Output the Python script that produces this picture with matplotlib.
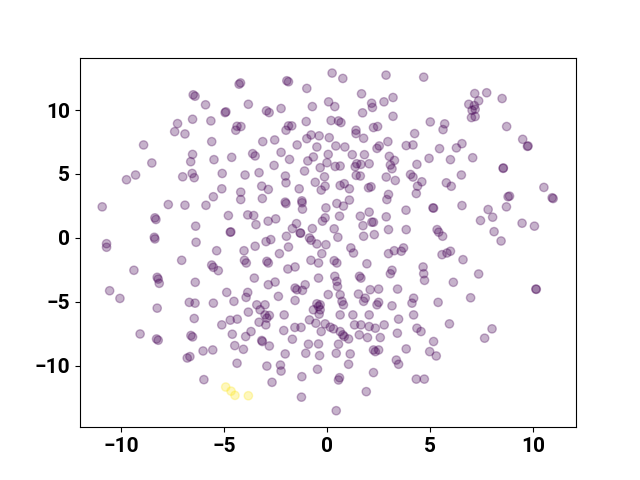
import numpy as np
import matplotlib
matplotlib.use('Agg')
import matplotlib.pyplot as plt

# 2-D embedding coordinates (class 0 = purple, class 1 = yellow)
x0 = [-6.50, -6.41, -5.90, -6.53, -7.26, -7.40, -6.90, -8.91, -6.53, -6.62,
      -8.51, -6.55, -6.45, -7.01, -9.30, -9.74, -4.27, -4.20, -1.95, -1.87,
      -0.98, 0.25, -3.82, -4.95, -4.91, -2.94, -2.81, -2.23, -0.71, 0.08,
      0.38, -5.64, -4.37, -4.18, -4.43, -1.87, -1.71, -1.99, -1.01, -5.60,
      -3.12, -2.54, -1.45, -0.98, -0.77, -0.38, -0.49, 0.11, -5.49, -4.63,
      -3.61, -3.49, -2.23, -1.82, -0.93, -0.66, 0.06, -2.57, -0.33, 0.00,
      -5.09, -3.98, -3.30, -2.02, -1.09, -0.12, -0.57, -1.99, 0.77, 2.87,
      4.70, 1.68, 2.17, 2.21, 2.77, 3.21, 1.73, 3.21, 0.20, 0.56,
      0.68, 1.41, 1.41, 1.78, 2.26, 2.46, 5.02, 5.72, 5.64, 4.26,
      2.96, 2.54, 2.43, 3.85, 4.18, 0.43, 0.87, 5.47, 6.29, 6.56,
      1.23, 1.82, 3.03, 3.28, 4.96, 6.00, 0.40, 0.64, 1.37, 1.45,
      1.65, 2.05, 3.08, 3.16, 4.37, 1.42, 1.62, 2.88, 3.32, 4.06,
      4.18, 4.61, 5.80, 6.04, 0.84, 7.18, 7.76, 6.89, 7.37, 7.16,
      7.05, 7.20, 7.02, 7.20, 8.51, 8.73, 9.51, 9.74, 9.77, 7.08,
      8.56, 8.57, 6.53, -10.92, -7.71, -6.90, -5.88, -8.36, -8.31, -6.38,
      -8.39, -8.36, -10.71, -10.71, -6.36, -7.06, -9.38, -8.25, -8.20, -8.15,
      -6.40, -10.56, -10.06, -8.25, -6.69, -6.41, -5.11, -3.17, -2.85, -1.35,
      -5.52, -4.19, -4.19, -3.14, -2.03, -1.99, -1.22, -1.21, -1.19, -0.28,
      -0.09, -0.05, -4.79, -3.85, -3.56, -3.45, -2.86, -2.49, -4.70, -4.67,
      -1.97, -1.68, -1.48, -1.30, -1.28, -0.71, -0.85, -0.77, -0.49, -0.22,
      -0.09, -0.05, -2.96, -2.73, -3.49, -1.87, -5.36, -4.03, -2.31, -0.25,
      -4.01, -3.92, -2.92, -2.85, -0.78, -0.41, -5.60, -5.52, -5.28, -1.90,
      -1.55, -0.41, -3.53, -2.85, -2.52, -1.55, -1.46, -1.19, -1.06, -4.87,
      -3.85, -3.93, -2.36, -1.55, -5.52, -4.52, -3.41, -3.01, -0.49, -0.33,
      -0.41, 0.06, 0.64, 1.09, 2.02, 2.14, 4.40, 0.48, 0.80, 1.09,
      2.99, 2.91, 4.34, 5.15, 5.18, 3.84, 0.61, 1.62, 2.05, 2.88,
      2.18, 2.26, 1.75, 0.35, 0.53, 1.78, 2.30, 2.99, 3.85, 5.35,
      5.43, 5.62, 1.16, 1.29, 2.99, 3.27, 3.61, 3.72, 5.59, 5.83,
      6.00, 0.35, 0.48, 1.94, 4.67, 4.70, 4.74, 3.16, 3.08, 1.58,
      1.65, 0.38, 0.48, 0.51, 6.14, 2.51, 2.10, 3.43, 1.53, 0.64,
      0.73, 0.80, 1.86, 1.78, 2.51, 2.43, 4.21, 4.13, 5.40, 3.16,
      6.56, 7.83, 8.05, 7.46, 8.12, 8.46, 8.72, 8.80, 8.87, 9.48,
      10.08, 10.54, 10.94, 10.99, 6.61, 7.37, 10.15, 10.17, 6.98, -6.45,
      -9.08, -8.28, -8.20, -6.61, -6.53, -6.02, -6.79, -6.66, -5.98, -3.82,
      -3.25, -3.01, -2.92, -2.80, -2.08, -5.11, -4.70, -4.36, -3.30, -2.97,
      -1.56, -1.26, -0.85, -0.66, -0.38, -0.33, -0.54, -0.09, -0.28, -2.10,
      -4.60, -3.95, -3.69, -3.17, -3.14, -4.48, -4.06, -2.80, -1.68, -0.90,
      -0.41, -5.55, -2.03, -1.03, -0.36, -4.37, -2.92, -2.26, -2.23, -2.67,
      -0.46, -1.22, -1.24, 0.64, 1.26, 2.05, 4.21, 3.48, 0.16, 0.32,
      0.64, 0.77, 0.84, 1.05, 1.34, 1.65, 2.05, 2.35, 2.78, 1.57,
      1.97, 2.59, 3.42, 4.37, 4.57, 5.95, 0.56, 0.45, 1.13, 2.26,
      2.35, 2.51, 3.85, 5.18, 4.99, 5.31, 3.37, 3.48, 1.05, 2.26,
      0.61, 0.56, 4.34, 4.73, 1.91, 0.45, 8.02, 7.66]

y0 = [11.19, 11.08, 10.41, 9.28, 8.94, 8.31, 8.13, 7.27, 6.53, 5.96,
      5.86, 5.04, 4.71, 4.78, 4.92, 4.55, 12.02, 12.12, 12.29, 12.21,
      11.69, 12.89, 10.45, 9.80, 9.86, 9.94, 9.80, 10.12, 10.27, 10.64,
      10.27, 9.15, 8.73, 8.71, 8.42, 8.76, 8.76, 8.42, 9.10, 7.53,
      7.53, 7.66, 7.27, 7.76, 8.05, 7.98, 7.11, 7.84, 6.12, 6.30,
      6.59, 6.41, 6.69, 6.14, 6.02, 6.33, 6.53, 5.67, 5.49, 5.88,
      5.04, 4.92, 5.10, 4.84, 5.23, 4.78, 4.35, 4.31, 12.47, 12.73,
      12.57, 11.27, 10.53, 10.20, 10.64, 10.98, 9.78, 9.51, 9.18, 9.15,
      9.02, 8.42, 8.16, 7.79, 8.63, 8.71, 9.07, 8.92, 8.47, 8.16,
      7.53, 7.19, 7.00, 7.22, 7.27, 7.19, 7.11, 6.98, 7.04, 7.37,
      6.51, 6.51, 6.38, 6.06, 6.22, 6.12, 5.59, 5.62, 5.57, 5.80,
      5.75, 5.80, 5.70, 5.41, 5.75, 4.89, 4.84, 4.76, 4.49, 4.96,
      4.76, 4.39, 4.31, 4.04, 4.24, 11.29, 11.35, 10.45, 10.72, 10.35,
      9.98, 10.06, 9.41, 9.49, 10.90, 8.71, 7.71, 7.16, 7.19, 6.27,
      5.44, 5.47, 4.92, 2.43, 2.61, 2.56, 2.55, 1.57, 1.44, 0.92,
      0.05, -0.08, -0.45, -0.73, -0.34, -1.75, -2.53, -3.08, -3.22, -3.55,
      -3.47, -4.13, -4.73, -5.49, -5.04, -5.10, 3.84, 4.05, 3.79, 3.84,
      3.22, 3.58, 3.00, 3.08, 2.80, 2.69, 2.90, 2.75, 2.25, 3.74,
      4.05, 2.35, 1.75, 1.80, 1.75, 1.04, 1.31, 1.49, 0.45, 0.47,
      0.13, 0.73, 1.12, 0.39, 0.37, 0.73, 0.00, -0.18, -0.47, 1.31,
      1.57, -0.53, -0.29, -0.13, -0.65, -0.71, -1.00, -1.00, -1.23, -1.23,
      -1.75, -1.96, -1.83, -1.96, -1.75, -1.96, -2.12, -2.30, -2.56, -2.43,
      -2.27, -3.14, -3.14, -3.66, -3.45, -3.92, -4.05, -4.10, -3.66, -4.26,
      -4.26, -4.65, -4.57, -4.89, -5.10, -4.96, -5.23, -5.23, -5.15, -5.23,
      -5.36, -4.43, 4.10, 3.84, 3.92, 4.00, 4.05, 2.69, 2.49, 2.96,
      3.40, 3.00, 3.47, 2.35, 2.33, 2.17, 1.70, 1.70, 2.02, 1.65,
      1.23, 1.23, 0.96, 0.71, 0.05, 0.13, 0.26, 0.65, 0.65, 0.65,
      0.45, 0.13, -0.78, -1.18, -1.23, -1.00, -1.04, -0.78, -1.31, -1.18,
      -1.04, -1.78, -1.96, -2.02, -2.27, -2.80, -3.32, -2.53, -2.80, -3.00,
      -3.14, -3.00, -3.40, -3.79, -3.47, -4.00, -4.05, -4.00, -4.39, -4.45,
      -4.96, -5.23, -4.71, -4.96, -5.04, -5.23, -4.71, -5.10, -5.04, -5.31,
      2.53, 2.22, 1.62, 1.36, 0.49, -0.24, 2.43, 3.22, 3.27, 1.15,
      0.92, 3.95, 3.14, 3.08, -1.70, -2.82, -4.00, -4.02, -4.68, -6.30,
      -7.51, -7.90, -8.00, -7.63, -7.74, -8.84, -9.39, -9.28, -11.08, -5.80,
      -5.62, -6.02, -6.27, -6.06, -6.02, -6.80, -6.43, -6.35, -6.59, -6.80,
      -7.00, -7.00, -6.41, -5.62, -5.96, -5.62, -6.67, -6.72, -7.32, -7.24,
      -7.53, -7.71, -7.32, -8.02, -8.10, -8.42, -8.71, -8.45, -7.92, -8.31,
      -8.29, -8.76, -9.07, -9.02, -9.20, -9.80, -10.02, -9.94, -10.41, -11.29,
      -10.27, -10.85, -12.45, -6.02, -6.02, -6.02, -6.02, -6.35, -6.98, -7.11,
      -7.32, -7.58, -7.71, -7.90, -6.80, -6.80, -6.93, -7.06, -6.80, -7.58,
      -7.79, -7.79, -7.45, -7.06, -7.32, -6.72, -8.31, -9.02, -9.07, -8.76,
      -8.89, -8.76, -8.68, -8.10, -8.89, -9.23, -9.55, -9.88, -9.88, -10.53,
      -10.93, -11.11, -11.04, -11.04, -12.02, -13.51, -7.11, -7.84]

x1 = [-4.92, -4.66, -4.47, -3.82]
y1 = [-11.66, -11.98, -12.31, -12.34]

X = np.array(x0 + x1)
Y = np.array(y0 + y1)
labels = np.array([0] * len(x0) + [1] * len(x1))

plt.rcParams['font.family'] = ['Roboto', 'DejaVu Sans']

plt.figure(figsize=(6.4, 4.8), dpi=100)
plt.scatter(X, Y, c=labels, cmap='viridis', alpha=0.3)
plt.xlim(-12.0, 12.1)
plt.ylim(-14.8, 14.1)
plt.xticks(fontsize=15, fontweight='bold')
plt.yticks(fontsize=15, fontweight='bold')

plt.savefig('out.png')
